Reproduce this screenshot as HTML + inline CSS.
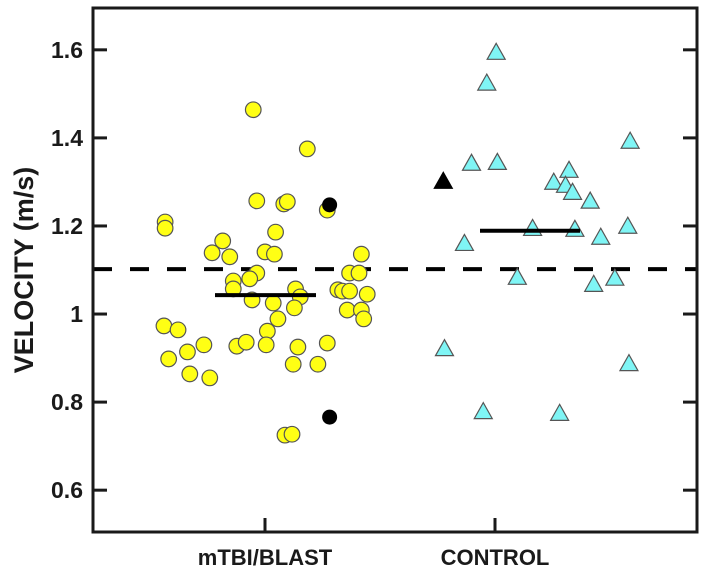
<!DOCTYPE html>
<html><head><meta charset="utf-8"><style>
html,body{margin:0;padding:0;background:#fff;}
svg{display:block;font-family:"Liberation Sans",Arial,sans-serif;font-weight:bold;}
</style></head><body>
<svg id="chart" width="709" height="576" viewBox="0 0 709 576">
<g id="marks"></g>
<g id="axes"></g>
</svg>
<script>
const categories = ["mTBI/BLAST", "CONTROL"];
const yTicks = [0.6, 0.8, 1, 1.2, 1.4, 1.6];
const yTickLabels = ["0.6", "0.8", "1", "1.2", "1.4", "1.6"];
const mtbiValues = [1.464,1.375,1.257,1.25,1.255,1.236,1.209,1.195,1.186,1.166,1.139,1.13,1.141,1.136,1.136,1.093,1.093,1.093,1.08,1.075,1.057,1.057,1.039,1.032,1.025,1.014,1.055,1.052,1.052,1.045,1.009,1.009,0.989,0.989,0.961,0.973,0.964,0.93,0.927,0.936,0.93,0.925,0.934,0.914,0.898,0.886,0.886,0.864,0.855,0.725,0.727];
const mtbiJitter = [-0.05,0.18,-0.035,0.08,0.095,0.265,-0.425,-0.425,0.045,-0.18,-0.225,-0.15,-0.0,0.04,0.41,0.36,0.4,-0.035,-0.065,-0.135,-0.135,0.13,0.15,-0.055,0.035,0.125,0.31,0.33,0.36,0.435,0.35,0.41,0.42,0.055,0.01,-0.43,-0.37,-0.26,-0.12,-0.08,0.005,0.14,0.265,-0.33,-0.41,0.12,0.225,-0.32,-0.235,0.085,0.115];
const mtbiOutliers = [1.248, 0.766];
const mtbiOutlierJitter = [0.275, 0.275];
const controlValues = [1.593,1.523,1.391,1.341,1.343,1.325,1.298,1.291,1.275,1.255,1.193,1.191,1.198,1.173,1.159,1.082,1.066,1.08,0.92,0.886,0.777,0.773];
const controlJitter = [0.005,-0.035,0.575,-0.1,0.01,0.315,0.25,0.3,0.33,0.405,0.16,0.34,0.565,0.45,-0.13,0.095,0.42,0.51,-0.215,0.57,-0.05,0.275];
const controlOutliers = [1.30];
const controlOutlierJitter = [-0.22];
const groupMeans = [1.043, 1.189];
const referenceLine = 1.102;

const NS = "http://www.w3.org/2000/svg";
const L = 93, R = 697, T = 8, B = 532;
const yMin = 0.505, yMax = 1.695;
const catX = [265, 495];
const jitterScale = 235;
function y(v){ return B - (v - yMin) / (yMax - yMin) * (B - T); }
function x(i, j){ return catX[i] + (j || 0) * jitterScale; }
const marks = document.getElementById('marks');
const axes = document.getElementById('axes');
function mk(tag, attrs, parent){
  const e = document.createElementNS(NS, tag);
  for (const k in attrs) e.setAttribute(k, attrs[k]);
  parent.appendChild(e);
  return e;
}
let e = mk('line', {x1:L, x2:R, y1:y(referenceLine), y2:y(referenceLine), stroke:'#000', 'stroke-width':4, 'stroke-dasharray':'19 18'}, marks);


mtbiValues.forEach((v, i) => {
  const c = mk('circle', {cx:x(0, mtbiJitter[i]), cy:y(v), r:7.8, fill:'#ffff14', stroke:'#555', 'stroke-width':1.2}, marks);
  
  
});
mtbiOutliers.forEach((v, i) => {
  const c = mk('circle', {cx:x(0, mtbiOutlierJitter[i]), cy:y(v), r:7.5, fill:'#000'}, marks);
  
  
});
function tri(cx, cy, fill, stroke){
  const h = 16, w = 18;
  return mk('polygon', {points:`${cx},${cy-h*0.6} ${cx-w/2},${cy+h*0.4} ${cx+w/2},${cy+h*0.4}`, fill:fill, stroke:stroke, 'stroke-width':1.2}, marks);
}
controlValues.forEach((v, i) => {
  const t = tri(x(1, controlJitter[i]), y(v), '#7ff5f5', '#555');
  
  
});
controlOutliers.forEach((v, i) => {
  const t = tri(x(1, controlOutlierJitter[i]), y(v), '#000', '#000');
  
  
});
const meanSpan = [[-50, 51], [-15, 85]];
groupMeans.forEach((m, i) => {
  const l = mk('line', {x1:catX[i] + meanSpan[i][0], x2:catX[i] + meanSpan[i][1], y1:y(m), y2:y(m), stroke:'#000', 'stroke-width':4}, marks);
  
  
});
e = mk('rect', {x:L, y:T, width:R-L, height:B-T, fill:'none', stroke:'#1a1a1a', 'stroke-width':3}, axes);


yTicks.forEach((v, i) => {
  const g = mk('g', {}, axes);
  
  
  mk('line', {x1:L, x2:L+14, y1:y(v), y2:y(v), stroke:'#1a1a1a', 'stroke-width':3}, g);
  mk('line', {x1:R-14, x2:R, y1:y(v), y2:y(v), stroke:'#1a1a1a', 'stroke-width':3}, g);
  const t = mk('text', {x:L-10, y:y(v)+8, 'text-anchor':'end', 'font-size':23, fill:'#1a1a1a'}, g);
  t.textContent = yTickLabels[i];
});
categories.forEach((c, i) => {
  const g = mk('g', {}, axes);
  
  
  mk('line', {x1:catX[i], x2:catX[i], y1:B, y2:B-14, stroke:'#1a1a1a', 'stroke-width':3}, g);
  const t = mk('text', {x:catX[i], y:565, 'text-anchor':'middle', 'font-size':22, fill:'#1a1a1a'}, g);
  t.textContent = c;
});
e = mk('text', {x:0, y:0, transform:'translate(33,270) rotate(-90)', 'text-anchor':'middle', 'font-size':27, fill:'#1a1a1a'}, axes);
e.textContent = 'VELOCITY (m/s)';


</script>
</body></html>
